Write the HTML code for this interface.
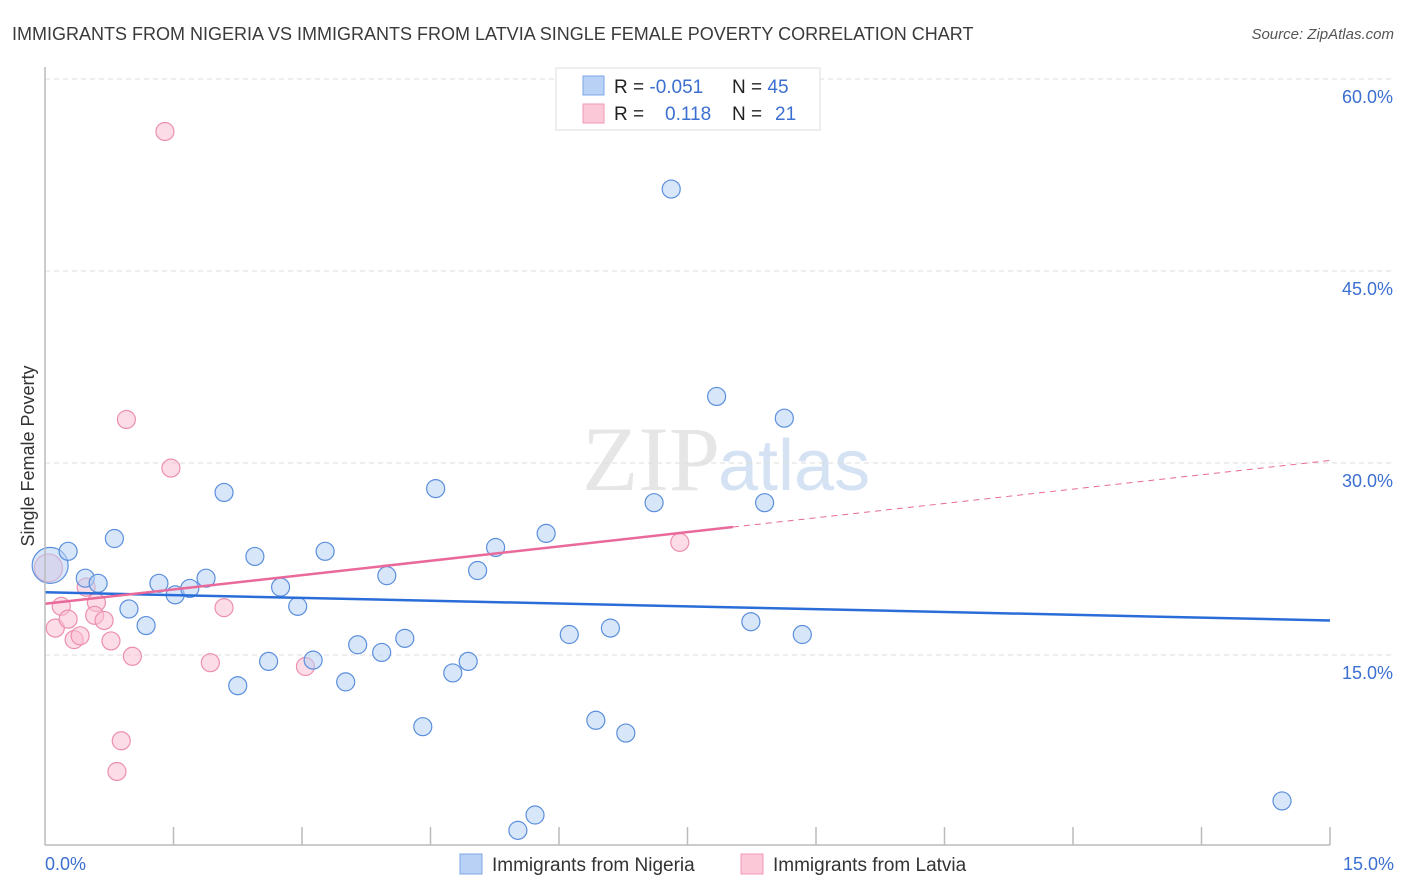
<!DOCTYPE html>
<html><head><meta charset="utf-8"><style>
body{margin:0;background:#fff;font-family:"Liberation Sans",sans-serif;}
svg{display:block}
</style></head><body>
<svg id="c" width="1406" height="892">
<text x="12" y="40" font-size="18" fill="#3a3a3a">IMMIGRANTS FROM NIGERIA VS IMMIGRANTS FROM LATVIA SINGLE FEMALE POVERTY CORRELATION CHART</text>
<text x="1394" y="39" font-size="15" fill="#555" font-style="italic" text-anchor="end">Source: ZipAtlas.com</text>
<text x="720" y="490" font-size="92" fill="#e6e6e6" text-anchor="end" font-family="Liberation Serif,serif">ZIP</text>
<text x="718" y="490" font-size="72" fill="#d4e2f4">atlas</text>
<text transform="translate(34,456) rotate(-90)" font-size="18" fill="#333" text-anchor="middle">Single Female Poverty</text>
<g id="grid"></g><g id="ticks"></g><g id="pts"></g><g id="trend"></g>
<line x1="45" y1="67" x2="45" y2="845" stroke="#bbb" stroke-width="1.5"/>
<line x1="45" y1="845" x2="1330" y2="845" stroke="#bbb" stroke-width="1.5"/>
<text x="45" y="870" font-size="18" fill="#3b6fd0">0.0%</text>
<text x="1394" y="870" font-size="18" fill="#3b6fd0" text-anchor="end">15.0%</text>
<g>
<rect x="556" y="68" width="264" height="62" fill="#fff" stroke="#ddd"/>
<rect x="583" y="76" width="21" height="19" fill="#b8d1f5" stroke="#7ea6e6"/>
<rect x="583" y="104" width="21" height="19" fill="#fbc8d8" stroke="#ef9ab5"/>
<text x="614" y="93" font-size="19" fill="#222">R = <tspan fill="#3b6fd0">-0.051</tspan><tspan x="732">N = </tspan><tspan fill="#3b6fd0">45</tspan></text>
<text x="614" y="120" font-size="19" fill="#222">R = <tspan x="665" fill="#3b6fd0">0.118</tspan><tspan x="732">N = </tspan><tspan x="775" fill="#3b6fd0">21</tspan></text>
</g>
<g><rect x="460" y="854" width="22" height="20" fill="#b8d1f5" stroke="#7ea6e6"/><text x="492" y="871" font-size="19" fill="#333">Immigrants from Nigeria</text></g>
<g><rect x="741" y="854" width="22" height="20" fill="#fbc8d8" stroke="#ef9ab5"/><text x="773" y="871" font-size="19" fill="#333">Immigrants from Latvia</text></g>
</svg>
<script>
const yTicks=[15,30,45,60];
const xTickVals=[1.5,3,4.5,6,7.5,9,10.5,12,13.5,15];
const blueX=[0.06,0.27,0.47,0.62,0.81,0.98,1.18,1.33,1.52,1.69,1.88,2.09,2.25,2.45,2.61,2.75,2.95,3.13,3.27,3.51,3.65,3.93,3.99,4.20,4.41,4.56,4.76,4.94,5.05,5.26,5.52,5.72,5.85,6.12,6.43,6.60,6.78,7.11,7.31,7.84,8.24,8.40,8.63,8.84,14.44];
const blueY=[22.0,23.1,21.0,20.6,24.1,18.6,17.3,20.6,19.7,20.2,21.0,27.7,12.6,22.7,14.5,20.3,18.8,14.6,23.1,12.9,15.8,15.2,21.2,16.3,9.4,28.0,13.6,14.5,21.6,23.4,1.3,2.5,24.5,16.6,9.9,17.1,8.9,26.9,51.4,35.2,17.6,26.9,33.5,16.6,3.6];
const pinkX=[0.04,0.12,0.19,0.27,0.34,0.41,0.48,0.60,0.58,0.69,0.77,0.84,0.89,0.95,1.02,1.40,1.47,1.93,2.09,3.04,7.41];
const pinkY=[21.8,17.1,18.8,17.8,16.2,16.5,20.3,19.1,18.1,17.7,16.1,5.9,8.3,33.4,14.9,55.9,29.6,14.4,18.7,14.1,23.8];
const blueTrend=[19.9,17.7];
const pinkTrend=[19.0,30.2];
const pinkSolidEnd=8.03;
const NS='http://www.w3.org/2000/svg';
const X=v=>45+v/15*1285, Y=v=>847-v/15*192;
function mk(p,t,a){const e=document.createElementNS(NS,t);for(const k in a)e.setAttribute(k,a[k]);document.getElementById(p).appendChild(e);return e;}
yTicks.forEach(t=>{
 const l=mk('grid','line',{x1:45,x2:1393,y1:Y(t),y2:Y(t),stroke:'#ddd','stroke-dasharray':'5,4'});
 
 
 const s=mk('grid','text',{x:1393,y:Y(t)+24,'font-size':18,fill:'#3b6fd0','text-anchor':'end'});
 s.textContent=t.toFixed(1)+'%';
 
 
});
xTickVals.forEach(t=>{
 const l=mk('ticks','line',{x1:X(t),x2:X(t),y1:827,y2:845,stroke:'#bbb','stroke-width':1.5});
 
 
});
function pts(xs,ys,fill,stroke,name){xs.forEach((x,i)=>{
 const r=(i===0)?(name==='point-nigeria'?18:14):9;
 const c=mk('pts','circle',{cx:X(x),cy:Y(ys[i]),r:r,fill:fill,'fill-opacity':0.55,stroke:stroke,'stroke-width':1.2});
 
 
});}
pts(pinkX,pinkY,'#f9c0d2','#ec8fae','point-latvia');
pts(blueX,blueY,'#b8d1f5','#5b8fdc','point-nigeria');
const pm=pinkTrend[0]+(pinkTrend[1]-pinkTrend[0])*pinkSolidEnd/15;
let l=mk('trend','line',{x1:X(0),y1:Y(blueTrend[0]),x2:X(15),y2:Y(blueTrend[1]),stroke:'#2a6dd8','stroke-width':2.5});


l=mk('trend','line',{x1:X(0),y1:Y(pinkTrend[0]),x2:X(pinkSolidEnd),y2:Y(pm),stroke:'#e8699a','stroke-width':2.5});


l=mk('trend','line',{x1:X(pinkSolidEnd),y1:Y(pm),x2:X(15),y2:Y(pinkTrend[1]),stroke:'#e8699a','stroke-width':1,'stroke-dasharray':'6,5'});


</script>
</body></html>
